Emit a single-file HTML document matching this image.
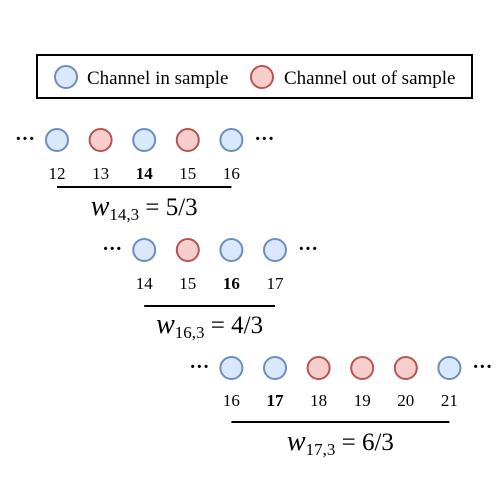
<!DOCTYPE html>
<html><head><meta charset="utf-8"><style>
html,body{margin:0;padding:0;background:#fff}
svg{display:block;font-family:"Liberation Serif",serif}
</style></head><body>
<svg width="500" height="500" viewBox="0 0 500 500">
<g>
<rect x="37" y="55" width="435" height="43" fill="#fff" stroke="#000" stroke-width="2"/>
<circle cx="66" cy="77" r="11" fill="#dae8fc" stroke="#6c8ebf" stroke-width="2"/>
<text x="87" y="84" font-size="19">Channel in sample</text>
<circle cx="262" cy="77" r="11" fill="#f8cecc" stroke="#b85450" stroke-width="2"/>
<text x="284" y="84" font-size="19">Channel out of sample</text>
</g>
<g id="rows"></g>
</svg>
<script>
const rowLabels=[[12,13,14,15,16],[14,15,16,17],[16,17,18,19,20,21]];
const rowInSample=[[1,0,1,0,1],[1,0,1,1],[1,1,0,0,0,1]];
const rowCenter=[14,16,17];
const rowWeight=["5/3","4/3","6/3"];
const rowsG=document.getElementById('rows');
const NS='http://www.w3.org/2000/svg';
const x0=57, dx=43.6;
const xOf=ch=>x0+(ch-12)*dx;
const yCirc=[140,250,368], yLab=[179,289,406], yLine=[187,306,422], yForm=[215,333,450];
function mk(t,a,txt){const e=document.createElementNS(NS,t);for(const k in a)e.setAttribute(k,a[k]);if(txt!=null)e.textContent=txt;rowsG.appendChild(e);return e;}
rowLabels.forEach((labs,r)=>{
  labs.forEach((ch,i)=>{
    const inS=rowInSample[r][i];
    const c=mk('circle',{cx:xOf(ch),cy:yCirc[r],r:11,fill:inS?'#dae8fc':'#f8cecc',stroke:inS?'#6c8ebf':'#b85450','stroke-width':2});
    
    
    const t=mk('text',{x:xOf(ch),y:yLab[r],'font-size':17,'text-anchor':'middle','font-weight':ch===rowCenter[r]?'bold':'normal'},String(ch));
    
    
  });
  const first=xOf(labs[0]), last=xOf(labs[labs.length-1]);
  const d1=mk('text',{x:first-32,y:yCirc[r]+5,'font-size':20,'font-weight':'bold','text-anchor':'middle'},'···');
  
  
  const d2=mk('text',{x:last+33,y:yCirc[r]+5,'font-size':20,'font-weight':'bold','text-anchor':'middle'},'···');
  
  
  const ln=mk('line',{x1:first,x2:last,y1:yLine[r],y2:yLine[r],stroke:'#000','stroke-width':2});
  
  
  const f=mk('text',{x:(first+last)/2,y:yForm[r],'font-size':25,'text-anchor':'middle'});
  
  
  f.innerHTML='<tspan font-style="italic" font-size="28">w</tspan><tspan font-size="17" dy="5">'+rowCenter[r]+',3</tspan><tspan dy="-5"> = '+rowWeight[r]+'</tspan>';
});
</script>
</body></html>
